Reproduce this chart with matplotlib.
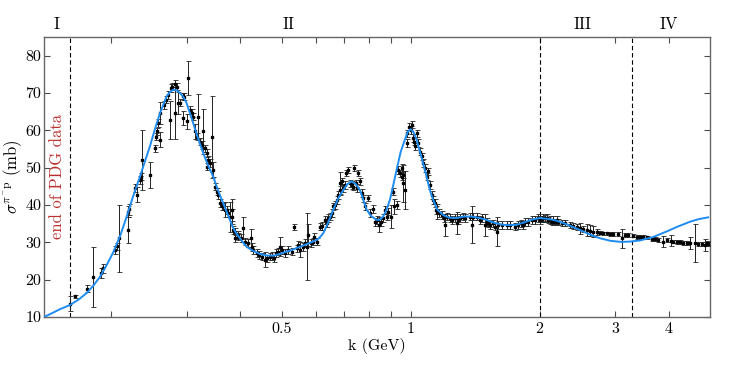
import matplotlib
matplotlib.use("Agg")
import matplotlib.pyplot as plt
from matplotlib.ticker import FixedLocator, FixedFormatter, NullFormatter
import matplotlib.transforms as mtransforms

plt.rcParams['font.family'] = 'serif'
plt.rcParams['font.serif'] = ['cmr10', 'DejaVu Serif']
plt.rcParams['mathtext.fontset'] = 'cm'
plt.rcParams['axes.unicode_minus'] = False

# ---- measured cross sections (k in GeV, sigma in mb, error in mb) ----
k_data = [
    0.160, 0.165, 0.176, 0.181, 0.189, 0.191, 0.204, 0.206, 0.209, 0.2185,
    0.2204, 0.2185, 0.2273, 0.2301, 0.2335, 0.2347, 0.2364, 0.2464, 0.2531, 0.2544,
    0.2554, 0.2577, 0.2600, 0.2600, 0.2657, 0.2685, 0.2719, 0.2755, 0.2778, 0.2819,
    0.2843, 0.2744, 0.2819, 0.2870, 0.2895, 0.2938, 0.3000, 0.3027, 0.2947, 0.2960,
    0.3054, 0.3082, 0.3109, 0.3138, 0.3166, 0.3193, 0.3222, 0.3252, 0.3281, 0.3311,
    0.3341, 0.3370, 0.3401, 0.3432, 0.3341, 0.3462, 0.3494, 0.3525, 0.3556, 0.3589,
    0.3654, 0.3720, 0.3752, 0.3822, 0.3855, 0.3890, 0.3960,
    0.3622, 0.3687, 0.3787, 0.3822, 0.3890, 0.3960, 0.4012, 0.4055, 0.4106, 0.4178,
    0.4233, 0.4255, 0.4292, 0.4371, 0.4433, 0.4490, 0.4571, 0.4613, 0.4694, 0.4753,
    0.4797, 0.4848, 0.4909, 0.4955, 0.5000, 0.5089, 0.5181, 0.5276, 0.5342, 0.5420,
    0.5466, 0.5517, 0.5598, 0.5667, 0.5738, 0.5768, 0.5843, 0.5906, 0.5948, 0.6035,
    0.6143, 0.6210, 0.6310, 0.6368, 0.6423, 0.6482, 0.6541, 0.6597, 0.6657, 0.6719,
    0.6776, 0.6839, 0.6839, 0.6902, 0.6962, 0.7026, 0.7064, 0.7152, 0.7217, 0.7284,
    0.7345, 0.7386, 0.7453, 0.7482, 0.7546, 0.7616, 0.7685, 0.7752, 0.7823, 0.7964,
    0.8035, 0.8153, 0.8255, 0.8330, 0.8433, 0.8511, 0.8632, 0.8710, 0.8790, 0.8866,
    0.8981, 0.9079, 0.9143, 0.9275, 0.9356, 0.9441, 0.9528, 0.9610, 0.9698,
    0.9528, 0.9610, 0.9788, 0.9820, 0.9925, 1.0000, 1.0054, 1.0141, 1.0179, 1.0233,
    1.0328, 1.0416, 1.0513, 1.0609, 1.0700, 1.0799, 1.0897, 1.0993, 1.1092, 1.1194,
    1.1290, 1.1394, 1.1455, 1.1537, 1.1662, 1.1811, 1.1979, 1.2023, 1.2173, 1.2351,
    1.2506, 1.2689, 1.2806, 1.2916, 1.3035, 1.3269, 1.3389, 1.3754, 1.3881, 1.4000,
    1.4256, 1.4511, 1.4700, 1.4907, 1.5045, 1.5174, 1.5314, 1.5538, 1.5729, 1.5875,
    1.6011, 1.6309, 1.6749, 1.7050, 1.7515, 1.7829, 1.8060, 1.8315, 1.8481, 1.8812,
    1.9163, 1.9506, 1.9855, 2.0038, 2.0397, 2.0771, 2.1143, 2.1522, 2.1917,
    2.0219, 2.0581, 2.0949, 2.1339, 2.1721, 2.2105, 2.2516, 2.2918, 2.3543, 2.3964,
    2.4404, 2.4841, 2.5286, 2.5756, 2.6211, 2.6681, 2.7176, 2.7662, 2.8157, 2.8673,
    2.9186, 2.9709, 3.0519, 3.1079, 3.1630, 3.2196, 3.3075, 3.3682, 3.4285, 3.4899,
    3.5547, 3.6510, 3.7163, 3.7828, 3.8861, 3.9576, 4.0628, 4.1017, 4.1779, 4.2528,
    4.3289, 4.4084, 4.4874, 4.6097, 4.6922, 4.7784, 4.8639, 4.9089, 4.9510,
]
sigma_data = [
    13.5, 15.6, 17.6, 20.8, 21.7, 23.0, 28.0, 28.9, 31.1, 38.2,
    38.9, 33.3, 44.5, 42.7, 46.7, 47.6, 52.1, 48.1, 55.2, 58.3,
    59.7, 61.9, 64.6, 57.5, 66.8, 68.2, 69.5, 71.3, 71.7, 72.5,
    71.7, 62.8, 64.7, 67.3, 67.4, 63.3, 62.4, 74.0, 69.1, 69.0,
    65.5, 64.6, 63.7, 59.7, 58.3, 63.7, 57.0, 56.1, 59.7, 55.2,
    53.9, 52.1, 51.2, 58.3, 50.3, 49.4, 44.9, 43.6, 42.7, 40.5,
    39.6, 38.7, 37.8, 36.9, 33.3, 31.1, 32.0,
    39.6, 38.7, 36.9, 38.7, 32.9, 31.5, 31.1, 33.8, 30.2, 29.8,
    31.1, 28.8, 28.0, 27.1, 26.6, 26.2, 25.3, 25.7, 26.2, 26.4,
    25.7, 27.1, 27.5, 28.8, 28.0, 27.1, 28.0, 27.5, 34.0, 28.4,
    29.3, 28.0, 28.8, 29.8, 28.8, 32.0, 29.8, 30.2, 31.5, 30.2,
    34.2, 34.4, 36.0, 35.1, 36.5, 36.9, 37.8, 39.6, 40.0, 41.4,
    42.7, 44.0, 45.8, 46.3, 44.5, 45.4, 48.7, 49.4, 45.8, 45.4,
    44.9, 49.9, 45.8, 44.5, 48.5, 46.3, 43.2, 41.8, 39.6, 41.8,
    37.8, 38.9, 35.5, 36.0, 34.7, 35.5, 36.5, 38.7, 36.9, 38.2,
    36.9, 43.6, 39.6, 40.0, 49.4, 48.5, 47.6, 45.8, 44.0,
    49.9, 48.1, 56.6, 59.2, 61.0, 60.1, 61.5, 57.9, 57.0, 55.7,
    59.2, 56.6, 54.3, 53.0, 51.2, 49.9, 47.6, 49.0, 45.4, 42.7,
    41.4, 40.5, 38.7, 38.2, 37.8, 37.3, 36.5, 34.7, 36.9, 36.5,
    36.0, 36.5, 35.1, 36.0, 36.5, 36.9, 36.5, 36.9, 34.7, 36.9,
    36.9, 36.0, 36.5, 34.7, 35.5, 35.1, 34.7, 35.1, 34.2, 32.9,
    34.7, 34.7, 34.7, 34.7, 34.2, 34.7, 35.1, 34.7, 35.5, 35.5,
    36.0, 36.0, 36.5, 36.0, 36.5, 36.5, 36.0, 36.0, 36.0,
    36.2, 36.5, 36.0, 35.5, 35.5, 35.5, 35.3, 35.1, 34.7, 34.4,
    34.2, 33.8, 33.5, 33.3, 33.1, 32.9, 32.7, 32.6, 32.4, 32.4,
    32.3, 32.2, 32.2, 31.1, 32.0, 32.0, 31.8, 31.5, 31.4, 31.4,
    31.3, 30.9, 30.8, 30.6, 30.2, 30.6, 30.4, 30.2, 30.0, 30.0,
    29.9, 29.9, 29.8, 29.8, 29.6, 29.5, 29.3, 29.8, 29.5,
]
err_data = [
    2.0, 0.4, 1.0, 8.0, 1.3, 1.3, 1.0, 1.0, 9.0, 1.5,
    1.5, 3.5, 1.0, 2.0, 1.0, 1.0, 8.0, 3.5, 1.0, 1.0,
    1.0, 1.0, 3.0, 2.0, 1.0, 1.0, 1.0, 1.0, 1.0, 1.0,
    1.0, 5.0, 7.0, 3.0, 1.0, 2.0, 2.0, 4.5, 1.0, 1.0,
    1.0, 1.0, 1.0, 2.0, 1.0, 6.0, 1.0, 1.0, 6.0, 1.0,
    1.0, 1.0, 1.0, 11.0, 1.0, 2.0, 1.0, 1.0, 1.0, 1.0,
    1.0, 1.0, 1.0, 2.0, 1.0, 1.0, 1.0,
    1.0, 2.0, 4.0, 3.0, 1.0, 1.0, 1.0, 3.0, 1.0, 1.0,
    2.5, 1.0, 1.0, 1.0, 1.0, 1.0, 2.0, 1.0, 1.0, 1.0,
    1.0, 1.0, 1.0, 2.5, 1.0, 1.0, 1.0, 1.0, 0.8, 1.0,
    1.0, 2.0, 1.0, 1.0, 9.0, 3.0, 1.0, 1.0, 1.0, 1.0,
    1.0, 1.0, 1.0, 1.0, 1.0, 1.0, 1.0, 1.0, 1.0, 1.0,
    1.0, 1.0, 3.0, 1.0, 1.0, 1.0, 0.8, 0.8, 1.0, 1.0,
    1.0, 0.8, 1.0, 1.0, 0.8, 1.0, 1.0, 1.0, 1.0, 0.8,
    1.0, 1.0, 1.0, 1.0, 2.0, 1.0, 1.0, 1.0, 1.0, 1.0,
    3.0, 1.0, 2.0, 1.0, 1.0, 1.0, 1.0, 5.0, 5.0,
    1.0, 1.0, 1.0, 1.0, 1.0, 1.0, 1.0, 1.0, 1.0, 1.0,
    1.0, 1.0, 1.0, 1.0, 1.0, 1.0, 1.0, 1.0, 1.0, 1.0,
    1.0, 1.0, 1.0, 2.0, 1.0, 1.0, 1.0, 3.0, 1.0, 1.0,
    1.0, 1.0, 3.0, 1.0, 1.0, 1.0, 1.0, 1.0, 5.0, 1.0,
    1.0, 1.0, 1.0, 3.0, 1.0, 1.0, 1.0, 1.0, 1.0, 4.0,
    1.0, 1.0, 1.0, 1.0, 1.0, 1.0, 1.0, 1.0, 1.0, 1.0,
    1.0, 1.0, 1.0, 1.0, 1.0, 1.0, 1.0, 1.0, 1.0,
    0.8, 0.8, 0.8, 0.8, 0.8, 0.8, 0.8, 0.8, 0.8, 0.8,
    0.8, 1.5, 0.8, 1.5, 1.5, 1.5, 0.8, 0.5, 0.5, 0.5,
    0.5, 0.5, 0.5, 2.5, 0.5, 0.5, 0.5, 0.5, 0.5, 0.5,
    0.5, 0.5, 0.5, 0.5, 1.5, 0.5, 1.5, 0.5, 0.5, 0.5,
    0.5, 0.5, 1.5, 5.0, 0.5, 0.5, 1.5, 0.5, 0.5,
]

# ---- fitted curve (blue) ----
k_fit = [
    0.1394, 0.1454, 0.1519, 0.1603, 0.1680, 0.1753, 0.1820, 0.1884, 0.1950, 0.2022,
    0.2100, 0.2174, 0.2250, 0.2335, 0.2400, 0.2463, 0.2530, 0.2600, 0.2650, 0.2695,
    0.2745, 0.2793, 0.2845, 0.2895, 0.2950, 0.3000, 0.3050, 0.3109, 0.3190, 0.3281,
    0.3370, 0.3462, 0.3550, 0.3652, 0.3750, 0.3855, 0.3920, 0.3996, 0.4060, 0.4143,
    0.4290, 0.4448, 0.4610, 0.4779, 0.4950, 0.5135, 0.5320, 0.5516, 0.5720, 0.5925,
    0.6100, 0.6252, 0.6420, 0.6597, 0.6780, 0.6963, 0.7120, 0.7284, 0.7450, 0.7614,
    0.7750, 0.7898, 0.8100, 0.8332, 0.8480, 0.8631, 0.8790, 0.8949, 0.9110, 0.9276,
    0.9480, 0.9698, 0.9850, 1.0000, 1.0160, 1.0328, 1.0600, 1.0897, 1.1090, 1.1289,
    1.1550, 1.1915, 1.2300, 1.2803, 1.3300, 1.3882, 1.4400, 1.5043, 1.5700, 1.6449,
    1.7000, 1.7677, 1.8500, 1.9200, 2.0036, 2.0900, 2.1914, 2.3300, 2.4842, 2.6200,
    2.7656, 2.9300, 3.1085, 3.2500, 3.4287, 3.6800, 3.9573, 4.2000, 4.4853, 4.7000,
    4.9502,
]
sigma_fit = [
    10.0, 11.0, 12.1, 13.2, 14.7, 16.4, 18.5, 20.8, 23.8, 27.3,
    31.8, 36.9, 42.3, 47.6, 51.8, 55.7, 60.3, 64.6, 67.0, 69.1,
    70.3, 70.9, 70.7, 70.0, 68.9, 67.3, 64.8, 61.9, 57.9, 53.9,
    50.5, 47.6, 44.0, 40.5, 37.2, 33.8, 32.4, 31.1, 30.0, 28.8,
    27.7, 26.9, 26.5, 26.4, 26.9, 27.5, 28.1, 28.8, 29.5, 30.2,
    31.0, 32.4, 35.3, 38.7, 41.8, 44.0, 45.6, 46.3, 45.6, 44.0,
    41.5, 38.7, 37.0, 36.0, 36.1, 36.9, 38.8, 41.4, 45.3, 49.4,
    54.2, 57.5, 59.6, 60.3, 59.5, 57.5, 52.8, 47.6, 44.0, 41.4,
    38.7, 37.3, 36.6, 36.5, 36.9, 36.9, 36.6, 36.0, 35.2, 34.7,
    34.6, 34.7, 35.4, 36.1, 36.5, 36.3, 35.8, 34.7, 33.3, 32.1,
    31.1, 30.4, 30.1, 30.2, 30.5, 31.4, 32.9, 34.2, 35.5, 36.2,
    36.7,
]

# ---- region boundaries and labels ----
boundaries = [0.160, 2.0, 3.29]
region_labels = ['I', 'II', 'III', 'IV']
region_label_k = [0.1495, 0.5178, 2.520, 4.007]
xtick_major = [0.5, 1, 2, 3, 4]
xtick_labels = ['0.5', '1', '2', '3', '4']
xtick_minor = [0.2, 0.3, 0.4, 0.6, 0.7, 0.8, 0.9]
ytick_vals = [10, 20, 30, 40, 50, 60, 70, 80]

fig = plt.figure(figsize=(7.47, 3.74), dpi=100)
ax = fig.add_axes([0.0589, 0.1524, 0.8916, 0.7487])

ax.errorbar(k_data, sigma_data, yerr=err_data, fmt='s', ms=1.6, color='black',
            ecolor='#222222', elinewidth=0.7, capsize=1.8, capthick=0.6, zorder=3)
ax.plot(k_fit, sigma_fit, color='#1e8cf0', lw=1.4, zorder=4)

for b in boundaries:
    ax.axvline(b, color='black', lw=0.8, ls=(0, (4, 2.5)), zorder=2)

ax.set_xscale('log')
ax.set_xlim(0.1394, 5.0)
ax.set_ylim(10, 85)

ax.xaxis.set_major_locator(FixedLocator(xtick_major))
ax.xaxis.set_major_formatter(FixedFormatter(xtick_labels))
ax.xaxis.set_minor_locator(FixedLocator(xtick_minor))
ax.xaxis.set_minor_formatter(NullFormatter())
ax.set_yticks(ytick_vals)
ax.set_yticklabels([str(v) for v in ytick_vals])

ax.tick_params(which='both', direction='in', top=True, right=True,
               colors='0.3', labelcolor='black')
ax.tick_params(which='major', length=4, width=0.8)
ax.tick_params(which='minor', length=4, width=0.8)
ax.tick_params(axis='x', labelsize=11.5, pad=4)
ax.tick_params(axis='y', labelsize=11.5, pad=2)
for s in ax.spines.values():
    s.set_color('0.4')
    s.set_linewidth(1.0)

ax.set_xlabel('k (GeV)', fontsize=11.5, labelpad=1)
ax.set_ylabel(r'$\sigma^{\pi^{-}\mathrm{p}}$ (mb)', fontsize=12, labelpad=1)

trans = mtransforms.blended_transform_factory(ax.transData, ax.transAxes)
for lab, kx in zip(region_labels, region_label_k):
    ax.text(kx, 1.045, lab, transform=trans, ha='center', va='center', fontsize=12)

ax.text(0.1495, 0.5, 'end of PDG data', transform=trans, rotation=90,
        ha='center', va='center', color='#b8302c', fontsize=12)

fig.savefig('out.png', dpi=100)
